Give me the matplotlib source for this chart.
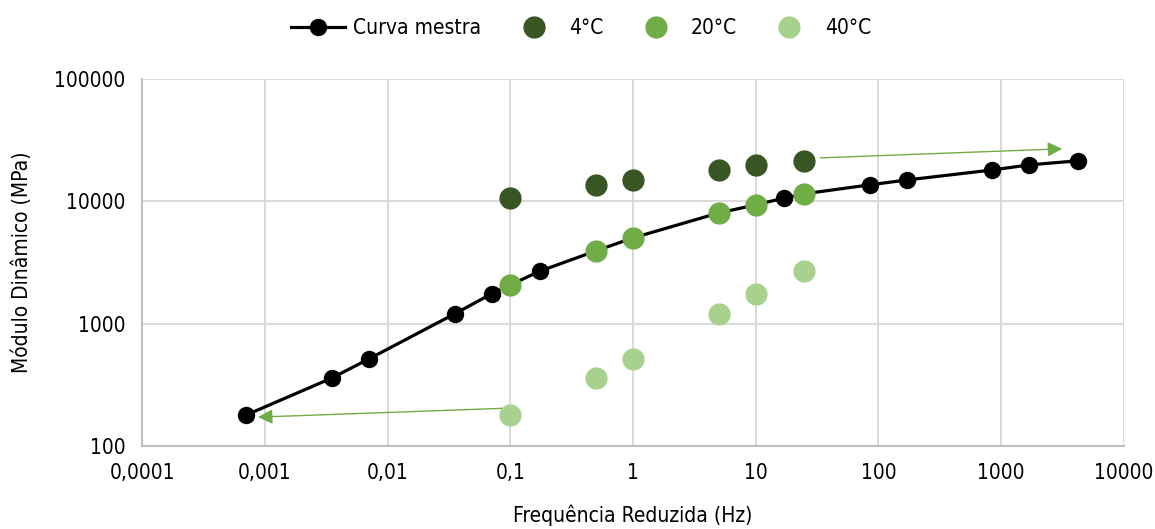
import matplotlib
matplotlib.use("Agg")
import matplotlib.pyplot as plt
import matplotlib.ticker as mticker
import numpy as np

plt.rcParams['font.family'] = ['Liberation Sans Narrow', 'DejaVu Sans', 'Liberation Sans']
plt.rcParams['font.stretch'] = 'condensed'

# test frequencies (Hz) and dynamic modulus (MPa) per temperature
freq = [0.1, 0.5, 1, 5, 10, 25]
mod_4c = [10600, 13600, 14900, 18000, 19800, 21400]
mod_20c = [2070, 3930, 5010, 8020, 9330, 11500]
mod_40c = [179, 359, 514, 1200, 1750, 2690]

# master curve (reduced frequency, modulus)
master_f = [0.000705, 0.00352, 0.00705, 0.0352, 0.0705, 0.1, 0.176, 0.5, 1, 5,
            10, 17, 25, 85, 170, 850, 1700, 4250]
master_e = [179, 359, 514, 1200, 1750, 2070, 2690, 3930, 5010, 8020,
            9330, 10600, 11500, 13600, 14900, 18000, 19800, 21400]

# shift arrows (start, end)
arrow_40 = ((0.1, 204), (0.00088, 172))
arrow_4 = ((33.6, 22600), (3150, 26800))

c_dark = '#375623'
c_mid = '#70AD47'
c_light = '#A9D18E'

fig = plt.figure(figsize=(11.55, 5.29), dpi=100)
ax = fig.add_axes([0.123, 0.157, 0.850, 0.694])

ax.plot(master_f, master_e, color='black', lw=2.3, marker='o', ms=11.5,
        label='Curva mestra', zorder=3)
ax.plot(freq, mod_4c, ls='none', marker='o', ms=15, color=c_dark, label='4°C', zorder=4)
ax.plot(freq, mod_20c, ls='none', marker='o', ms=15, color=c_mid, label='20°C', zorder=4)
ax.plot(freq, mod_40c, ls='none', marker='o', ms=15, color=c_light, label='40°C', zorder=4)

for start, end in (arrow_40, arrow_4):
    ax.annotate('', xy=end, xytext=start,
                arrowprops=dict(arrowstyle='-|>', color=c_mid, lw=1.0,
                                mutation_scale=22, shrinkA=0, shrinkB=0),
                zorder=2)

ax.set_xscale('log')
ax.set_yscale('log')
ax.set_xlim(0.0001, 10000)
ax.set_ylim(100, 100000)

xt = [0.0001, 0.001, 0.01, 0.1, 1, 10, 100, 1000, 10000]
xl = ['0,0001', '0,001', '0,01', '0,1', '1', '10', '100', '1000', '10000']
ax.xaxis.set_major_locator(mticker.FixedLocator(xt))
ax.xaxis.set_minor_locator(mticker.NullLocator())
ax.set_xticklabels(xl)
yt = [100, 1000, 10000, 100000]
ax.yaxis.set_major_locator(mticker.FixedLocator(yt))
ax.yaxis.set_minor_locator(mticker.NullLocator())
ax.set_yticklabels([str(v) for v in yt])

ax.tick_params(length=0, labelsize=15, pad=12, colors='black')
ax.grid(True, color='#D9D9D9', lw=1.4)
ax.set_axisbelow(True)
for s in ['top', 'right']:
    ax.spines[s].set_visible(False)
for s in ['left', 'bottom']:
    ax.spines[s].set_color('#BFBFBF')
    ax.spines[s].set_linewidth(1.5)

ax.set_xlabel('Frequência Reduzida (Hz)', fontsize=15, labelpad=16)
ax.set_ylabel('Módulo Dinâmico (MPa)', fontsize=15, labelpad=16)

fig.legend(loc='center', bbox_to_anchor=(581 / 1155, 0.947), ncol=4, frameon=False,
           fontsize=15, handlelength=2.6, handletextpad=0.4, columnspacing=1.2)

fig.savefig('out.png', dpi=100)
